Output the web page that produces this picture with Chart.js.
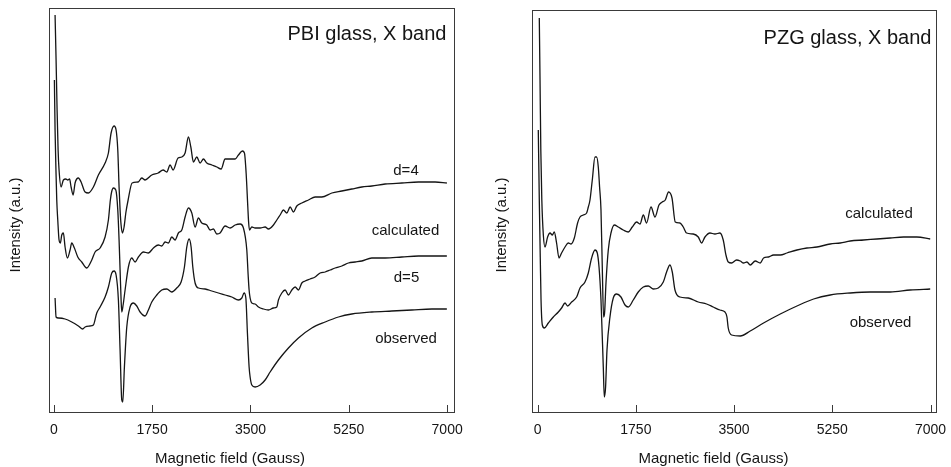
<!DOCTYPE html>
<html lang="en">
<head>
<meta charset="UTF-8">
<title>EPR spectra - PBI and PZG glass, X band</title>
<script src="https://cdn.jsdelivr.net/npm/chart.js"></script>
<style>
    html, body { margin: 0; padding: 0; background: #fff; }
    #wrap { position: relative; width: 951px; height: 467px; }
    .panel { position: absolute; top: 0; width: 475px; height: 467px; }
</style>
</head>
<body>
<div id="wrap">
    <div class="panel" style="left:0"><canvas id="pbi"></canvas></div>
    <div class="panel" style="left:476px"><canvas id="pzg"></canvas></div>
</div>

<script>
    // x axis ticks (Gauss)
    const xTicks = [0, 1750, 3500, 5250, 7000];

    // PBI glass - calculated, d=4
    const pbiD4Field = [23, 41, 59, 77, 94, 130, 171, 214, 249, 281, 308, 344, 379, 438, 486, 557, 616, 705, 794, 913, 972, 1020, 1073, 1109, 1139, 1162, 1180, 1198, 1221, 1251, 1282, 1323, 1394, 1501, 1566, 1625, 1744, 1857, 1946, 2011, 2070, 2123, 2212, 2278, 2337, 2396, 2439, 2485, 2545, 2604, 2663, 2723, 2812, 2901, 2978, 3049, 3138, 3227, 3286, 3357, 3393, 3423, 3453, 3467, 3482, 3524, 3583, 3672, 3761, 3820, 3909, 3969, 4028, 4087, 4147, 4206, 4265, 4325, 4414, 4532, 4651, 4770, 4948, 5126, 5304, 5482, 5660, 5897, 6194, 6490, 6787, 6995];
    const pbiD4Int = [398, 353, 303, 263, 243, 226, 233, 234, 233, 234, 226, 218, 230, 235, 231, 221, 220, 226, 238, 250, 260, 280, 287, 283, 263, 226, 203, 188, 180, 186, 200, 213, 230, 231, 235, 233, 238, 240, 243, 241, 248, 243, 255, 256, 260, 276, 266, 251, 256, 250, 254, 250, 248, 246, 244, 254, 254, 254, 258, 262, 260, 240, 206, 191, 183, 186, 185, 185, 186, 184, 188, 193, 198, 203, 200, 206, 201, 207, 210, 213, 216, 216, 220, 222, 224, 226, 227, 229, 230, 231, 231, 230];

    // PBI glass - calculated, d=5
    const pbiD5Field = [11, 23, 41, 53, 71, 94, 117, 142, 171, 201, 242, 290, 320, 367, 427, 498, 587, 676, 735, 824, 913, 972, 1007, 1029, 1061, 1104, 1139, 1162, 1180, 1198, 1210, 1234, 1269, 1328, 1388, 1447, 1506, 1595, 1684, 1773, 1862, 1922, 1981, 2040, 2100, 2159, 2218, 2278, 2337, 2396, 2456, 2515, 2574, 2634, 2723, 2782, 2841, 2901, 2960, 3049, 3138, 3227, 3316, 3375, 3435, 3459, 3476, 3494, 3524, 3583, 3642, 3731, 3820, 3909, 3969, 3998, 4058, 4117, 4176, 4236, 4295, 4355, 4414, 4473, 4562, 4651, 4740, 4829, 4918, 5007, 5126, 5244, 5363, 5482, 5660, 5897, 6194, 6490, 6787, 6995];
    const pbiD5Int = [333, 283, 238, 213, 193, 173, 170, 178, 180, 166, 155, 163, 170, 165, 156, 151, 145, 153, 161, 165, 176, 193, 213, 221, 225, 223, 203, 173, 143, 113, 101, 108, 123, 146, 155, 151, 156, 161, 160, 165, 168, 167, 171, 170, 176, 173, 180, 183, 196, 205, 200, 186, 195, 190, 188, 183, 184, 179, 180, 187, 185, 188, 189, 185, 163, 138, 123, 115, 110, 109, 106, 104, 103, 105, 106, 113, 120, 123, 118, 123, 126, 123, 130, 132, 134, 136, 140, 141, 143, 145, 147, 150, 151, 152, 155, 155, 156, 157, 157, 157];

    // PBI glass - observed
    const pbiObsField = [23, 41, 82, 201, 320, 438, 516, 557, 646, 705, 765, 824, 913, 972, 1032, 1073, 1109, 1150, 1180, 1210, 1228, 1257, 1299, 1358, 1417, 1477, 1536, 1625, 1684, 1744, 1833, 1922, 2011, 2100, 2189, 2266, 2325, 2367, 2408, 2444, 2474, 2515, 2574, 2693, 2812, 2930, 3049, 3168, 3286, 3346, 3387, 3418, 3446, 3476, 3494, 3524, 3583, 3672, 3761, 3850, 3998, 4176, 4354, 4592, 4829, 5066, 5304, 5660, 6016, 6372, 6728, 6995];
    const pbiObsInt = [115, 96, 95, 94, 91, 87, 84, 86, 87, 88, 100, 106, 116, 126, 140, 142, 138, 113, 63, 13, 11, 46, 86, 106, 110, 107, 101, 97, 103, 111, 118, 123, 124, 121, 125, 131, 146, 166, 174, 166, 146, 130, 125, 124, 122, 120, 118, 116, 113, 115, 120, 115, 80, 46, 36, 28, 26, 28, 33, 41, 53, 65, 75, 85, 91, 96, 99, 101, 102, 103, 104, 104];

    // PZG glass - calculated
    const pzgCalcField = [30, 43, 57, 75, 102, 132, 178, 221, 262, 297, 338, 381, 427, 488, 547, 595, 654, 712, 755, 814, 873, 903, 933, 974, 1022, 1051, 1081, 1104, 1129, 1152, 1175, 1193, 1218, 1259, 1307, 1366, 1437, 1526, 1615, 1686, 1763, 1824, 1883, 1941, 2020, 2091, 2162, 2221, 2274, 2333, 2394, 2452, 2536, 2595, 2654, 2773, 2862, 2921, 2981, 3070, 3159, 3249, 3307, 3355, 3396, 3455, 3544, 3610, 3669, 3729, 3788, 3877, 3966, 4025, 4114, 4203, 4323, 4442, 4620, 4798, 4976, 5213, 5391, 5569, 5806, 6045, 6282, 6518, 6757, 6994];
    const pzgCalcInt = [395, 333, 263, 213, 178, 166, 176, 180, 178, 181, 170, 155, 160, 166, 170, 169, 175, 190, 196, 198, 200, 206, 213, 233, 256, 256, 246, 226, 203, 146, 96, 100, 130, 163, 180, 188, 186, 183, 181, 186, 191, 189, 198, 190, 206, 196, 208, 211, 213, 221, 215, 191, 190, 186, 180, 179, 176, 170, 176, 180, 179, 180, 173, 158, 151, 150, 153, 152, 150, 151, 148, 152, 150, 155, 156, 158, 158, 160, 163, 165, 166, 169, 170, 172, 173, 174, 175, 176, 176, 174];

    // PZG glass - observed
    const pzgObsField = [12, 30, 48, 61, 84, 119, 191, 280, 369, 427, 488, 534, 606, 695, 755, 844, 903, 962, 1022, 1063, 1094, 1129, 1170, 1188, 1211, 1236, 1289, 1348, 1407, 1485, 1557, 1615, 1704, 1793, 1883, 1972, 2061, 2150, 2239, 2298, 2358, 2399, 2447, 2536, 2684, 2862, 3010, 3129, 3249, 3338, 3373, 3396, 3455, 3610, 3788, 4025, 4323, 4620, 4917, 5213, 5569, 5925, 6282, 6638, 6994];
    const pzgObsInt = [283, 213, 153, 113, 88, 85, 90, 96, 101, 105, 110, 107, 111, 116, 125, 131, 140, 155, 163, 160, 146, 113, 46, 16, 26, 63, 96, 115, 119, 116, 108, 106, 113, 121, 126, 127, 124, 125, 131, 141, 148, 141, 123, 116, 115, 111, 109, 106, 103, 101, 96, 85, 78, 77, 82, 90, 99, 107, 114, 118, 120, 121, 121, 123, 124];

    const FONT = '"Liberation Sans", Arial, Helvetica, sans-serif';
    const INK = '#151515';

    function toPoints(xs, ys) {
        return xs.map((x, i) => ({ x: x, y: ys[i] }));
    }

    function trace(xs, ys, label) {
        return {
            label: label,
            data: toPoints(xs, ys),
            borderColor: INK,
            borderWidth: 1.3,
            pointRadius: 0,
            fill: false,
            cubicInterpolationMode: 'monotone'
        };
    }

    // frame, inward tick marks and the texts of each panel
    const decor = {
        id: 'decor',
        afterDraw(chart, args, opts) {
            const { ctx, chartArea: a } = chart;
            const xs = chart.scales.x;
            ctx.save();
            ctx.strokeStyle = '#3a3a3a';
            ctx.lineWidth = 1;
            ctx.strokeRect(a.left + 0.5, a.top + 0.5, a.right - a.left - 1, a.bottom - a.top - 1);
            ctx.beginPath();
            xTicks.forEach(v => {
                const px = Math.round(xs.getPixelForValue(v)) + 0.5;
                ctx.moveTo(px, a.bottom);
                ctx.lineTo(px, a.bottom - 8);
            });
            ctx.stroke();

            ctx.fillStyle = INK;
            ctx.textBaseline = 'alphabetic';
            ctx.textAlign = 'center';
            opts.labels.forEach(t => {
                ctx.font = t.size + 'px ' + FONT;
                ctx.fillText(t.text, t.x, t.y);
            });

            ctx.font = '15px ' + FONT;
            ctx.fillText('Magnetic field (Gauss)', opts.xTitle.x, opts.xTitle.y);

            ctx.textBaseline = 'middle';
            ctx.translate(opts.yTitle.x, opts.yTitle.y);
            ctx.rotate(-Math.PI / 2);
            ctx.fillText('Intensity (a.u.)', 0, 0);
            ctx.restore();
        }
    };

    function makeChart(id, datasets, cfg) {
        return new Chart(document.getElementById(id), {
            type: 'line',
            data: { datasets: datasets },
            plugins: [decor],
            options: {
                responsive: true,
                maintainAspectRatio: false,
                animation: false,
                layout: { padding: cfg.padding },
                plugins: {
                    legend: { display: false },
                    tooltip: { enabled: false },
                    decor: { labels: cfg.labels, yTitle: cfg.yTitle, xTitle: cfg.xTitle }
                },
                scales: {
                    x: {
                        type: 'linear',
                        min: cfg.xMin,
                        max: cfg.xMax,
                        afterBuildTicks: s => { s.ticks = xTicks.map(v => ({ value: v })); },
                        afterFit: s => {
                            s.height = 54;
                            s.paddingLeft = 0;
                            s.paddingRight = 0;
                        },
                        grid: { display: false, drawTicks: false },
                        border: { display: false },
                        ticks: {
                            autoSkip: false,
                            maxRotation: 0,
                            padding: 9,
                            color: INK,
                            font: { family: FONT, size: 14 },
                            callback: v => String(v)
                        }
                    },
                    y: {
                        type: 'linear',
                        display: false,
                        min: 0,
                        max: cfg.yMax
                    }
                }
            }
        });
    }

    makeChart('pbi', [
        trace(pbiD4Field, pbiD4Int, 'd=4'),
        trace(pbiD5Field, pbiD5Int, 'calculated d=5'),
        trace(pbiObsField, pbiObsInt, 'observed')
    ], {
        padding: { left: 49, right: 20, top: 8, bottom: 0 },
        xMin: -85, xMax: 7140, yMax: 405,
        yTitle: { x: 16, y: 225 },
        xTitle: { x: 230, y: 463 },
        labels: [
            { text: 'PBI glass, X band', size: 20, x: 367, y: 39.5 },
            { text: 'd=4', size: 15, x: 406, y: 175 },
            { text: 'calculated', size: 15, x: 405.5, y: 235 },
            { text: 'd=5', size: 15, x: 406.5, y: 281.5 },
            { text: 'observed', size: 15, x: 406, y: 343 }
        ]
    });

    makeChart('pzg', [
        trace(pzgCalcField, pzgCalcInt, 'calculated'),
        trace(pzgObsField, pzgObsInt, 'observed')
    ], {
        padding: { left: 56, right: 14, top: 10, bottom: 0 },
        xMin: -100, xMax: 7115, yMax: 403,
        yTitle: { x: 25.7, y: 225 },
        xTitle: { x: 237.5, y: 463 },
        labels: [
            { text: 'PZG glass, X band', size: 20, x: 371.5, y: 43.5 },
            { text: 'calculated', size: 15, x: 403, y: 218.3 },
            { text: 'observed', size: 15, x: 404.5, y: 326.5 }
        ]
    });
</script>
</body>
</html>
